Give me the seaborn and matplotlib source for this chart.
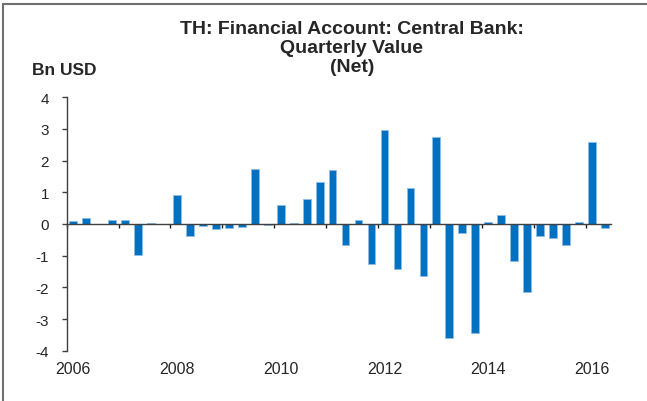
import seaborn as sns
import pandas as pd
import matplotlib.pyplot as plt
from matplotlib.lines import Line2D

# quarterly values, 2006Q1 .. 2016Q2 (Bn USD)
years = list(range(2006, 2017))
quarters = [f'{y}Q{q}' for y in years for q in range(1, 5)][:42]
valores = [0.10, 0.20, -0.01, 0.12, 0.12, -0.98, 0.02, 0.00,
           0.90, -0.37, -0.05, -0.16, -0.12, -0.08, 1.74, -0.04,
           0.59, 0.03, 0.78, 1.33, 1.72, -0.67, 0.14, -1.26,
           2.97, -1.43, 1.14, -1.64, 2.74, -3.59, -0.28, -3.45,
           0.06, 0.27, -1.18, -2.14, -0.37, -0.43, -0.65, 0.05,
           2.60, -0.12]
anos_rotulo = ['2006', '2008', '2010', '2012', '2014', '2016']
yticks = [-4, -3, -2, -1, 0, 1, 2, 3, 4]

dados = pd.DataFrame({'trimestre': quarters, 'valor': valores})

sns.set_style('white')
plt.rcParams['font.family'] = ['Liberation Sans', 'DejaVu Sans']

fig = plt.figure(figsize=(6.47, 4.02), dpi=100)
ax = fig.add_axes([0.1031, 0.1251, 0.842, 0.6304])

sns.barplot(data=dados, x='trimestre', y='valor', color='#0070C0',
            saturation=1, width=0.6, edgecolor='#8FBDE6', linewidth=0.6,
            ax=ax)

ax.set_xlim(-0.5, 41.5)
ax.set_ylim(-4, 4)
ax.set_yticks(yticks)
ax.set_yticklabels([str(v) for v in yticks], fontsize=11)
ax.set_xlabel('')
ax.set_ylabel('')

# zero line carries the yearly ticks
ax.spines['top'].set_visible(False)
ax.spines['right'].set_visible(False)
ax.spines['bottom'].set_position(('data', 0))
for s in ['left', 'bottom']:
    ax.spines[s].set_color('#404040')
    ax.spines[s].set_linewidth(1.0)
ax.set_xticks([-0.5 + 4 * i for i in range(11)])
ax.set_xticklabels([])
ax.tick_params(axis='x', bottom=True, direction='out', length=3,
               width=1, color='#202020')
ax.tick_params(axis='y', left=True, direction='out', length=3.6,
               width=1, color='#404040', pad=9)

# year labels under the plot, centred on first quarter
tr = ax.get_xaxis_transform()
for i, lab in enumerate(anos_rotulo):
    ax.text(8 * i, -0.072, lab, transform=tr, ha='center', va='center',
            fontsize=11.5)

fig.text(0.544, 0.948, 'TH: Financial Account: Central Bank:\nQuarterly Value\n(Net)',
         ha='center', va='top', fontsize=14, fontweight='bold', linespacing=1.15)
fig.text(0.05, 0.825, 'Bn USD', ha='left', va='center', fontsize=12.5,
         fontweight='bold')

# frame on left and top
fig.add_artist(Line2D([0.005, 0.005], [0, 0.988], transform=fig.transFigure,
                      color='#707070', linewidth=1.5))
fig.add_artist(Line2D([0.005, 1], [0.988, 0.988], transform=fig.transFigure,
                      color='#707070', linewidth=1.5))

fig.savefig('out.png', dpi=100)
